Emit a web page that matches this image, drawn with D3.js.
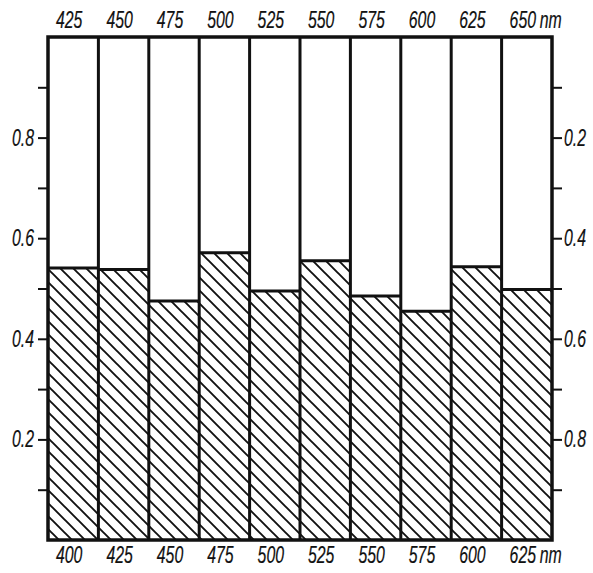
<!DOCTYPE html>
<html>
<head>
<meta charset="utf-8">
<script src="https://cdn.jsdelivr.net/npm/d3@7"></script>
<style>
  html, body { margin: 0; padding: 0; background: #fff; }
  svg text { font-family: "Liberation Sans", Arial, sans-serif; font-style: italic; fill: #111; stroke: #111; stroke-width: 0.2px; }
</style>
</head>
<body>
<svg id="chart" width="593" height="573"></svg>
<script>
// Lower band edges (nm) for each column, and upper band edges
const lowerEdges = ["400", "425", "450", "475", "500", "525", "550", "575", "600", "625"];
const upperEdges = ["425", "450", "475", "500", "525", "550", "575", "600", "625", "650"];
// Fraction (hatched part) in each wavelength band
const fractions = [0.541, 0.538, 0.475, 0.571, 0.495, 0.555, 0.485, 0.455, 0.543, 0.498];
// Axis ticks
const leftTicks = [0.1, 0.2, 0.3, 0.4, 0.5, 0.6, 0.7, 0.8, 0.9];
const leftLabels = [0.2, 0.4, 0.6, 0.8];
const rightTicks = [0.1, 0.2, 0.3, 0.4, 0.5, 0.6, 0.7, 0.8, 0.9];
const rightLabels = [0.2, 0.4, 0.6, 0.8];
const unit = "nm";

const svg = d3.select("#chart");
const L = 48, R = 552, T = 37, B = 540;
const FS = 24, SX = 0.66;   // lettering size and horizontal squeeze

const x = d3.scaleBand().domain(lowerEdges).range([L, R]).padding(0);
const y = d3.scaleLinear().domain([0, 1]).range([B, T]);
const yR = d3.scaleLinear().domain([0, 1]).range([T, B]);

const fmt = d3.format(".1f");

// narrow italic lettering placed at (px, py)
function label(g, px, py, str, anchor) {
  g.append("text")
    .attr("transform", `translate(${px},${py}) scale(${SX},1)`)
    .attr("text-anchor", anchor)
    .attr("font-size", FS)
    .text(str);
}

// hatch pattern
const defs = svg.append("defs");
const S = 13;
const pat = defs.append("pattern")
  .attr("id", "hatch")
  .attr("patternUnits", "userSpaceOnUse")
  .attr("width", S).attr("height", S);
pat.append("path")
  .attr("d", `M${-S/2},${S/2} L${S/2},${1.5*S} M0,0 L${S},${S} M${S/2},${-S/2} L${1.5*S},${S/2}`)
  .attr("stroke", "#111").attr("stroke-width", 1.9).attr("fill", "none");

// hatched bars
svg.append("g").selectAll("rect")
  .data(fractions)
  .join("rect")
  .attr("x", (d, i) => x(lowerEdges[i]))
  .attr("y", d => y(d))
  .attr("width", x.bandwidth())
  .attr("height", d => y(0) - y(d))
  .attr("fill", "url(#hatch)");

// bar top edges
svg.append("g").selectAll("line")
  .data(fractions)
  .join("line")
  .attr("x1", (d, i) => x(lowerEdges[i]))
  .attr("x2", (d, i) => x(lowerEdges[i]) + x.bandwidth())
  .attr("y1", d => y(d)).attr("y2", d => y(d))
  .attr("stroke", "#111").attr("stroke-width", 3);

// column dividers
svg.append("g").selectAll("line")
  .data(lowerEdges.slice(1))
  .join("line")
  .attr("x1", d => x(d)).attr("x2", d => x(d))
  .attr("y1", T).attr("y2", B)
  .attr("stroke", "#111").attr("stroke-width", 3);

// frame
svg.append("rect")
  .attr("x", L).attr("y", T).attr("width", R - L).attr("height", B - T)
  .attr("fill", "none").attr("stroke", "#111").attr("stroke-width", 3.5);

// left axis (ticks only; labels drawn as narrow lettering)
const axL = svg.append("g").attr("transform", `translate(${L},0)`)
  .call(d3.axisLeft(y).tickValues(leftTicks).tickSize(10).tickFormat(""));
axL.select(".domain").remove();
axL.selectAll(".tick line").attr("stroke", "#111").attr("stroke-width", 2);
const gL = svg.append("g");
leftLabels.forEach(v => label(gL, L - 14, y(v) + 8, fmt(v), "end"));

// right axis (complement)
const axR = svg.append("g").attr("transform", `translate(${R},0)`)
  .call(d3.axisRight(yR).tickValues(rightTicks).tickSize(10).tickFormat(""));
axR.select(".domain").remove();
axR.selectAll(".tick line").attr("stroke", "#111").attr("stroke-width", 2);
const gR = svg.append("g");
rightLabels.forEach(v => label(gR, R + 12, yR(v) + 8, fmt(v), "start"));

// wavelength labels above and below the columns
const xc = i => x(lowerEdges[i]) + x.bandwidth() / 2 - 4;
const gT = svg.append("g");
upperEdges.forEach((d, i) => label(gT, xc(i), 28, d, "middle"));
label(gT, xc(upperEdges.length - 1) + 17, 28, unit, "start");
const gB = svg.append("g");
lowerEdges.forEach((d, i) => label(gB, xc(i), 563, d, "middle"));
label(gB, xc(lowerEdges.length - 1) + 17, 563, unit, "start");
</script>
</body>
</html>
